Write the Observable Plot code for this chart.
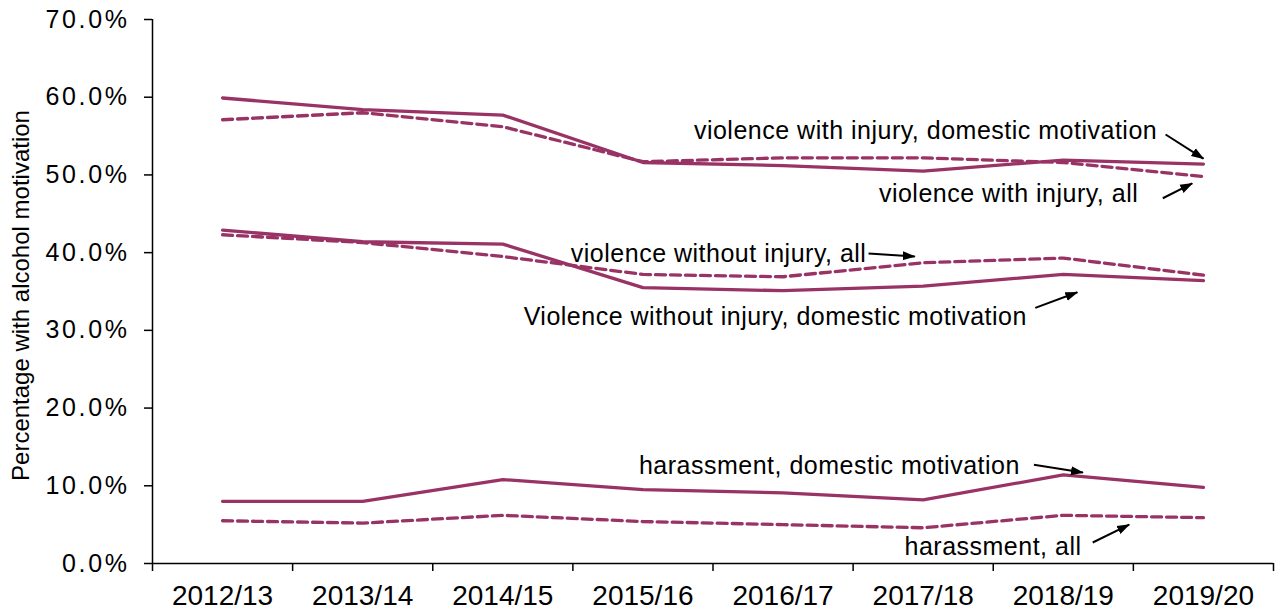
<!DOCTYPE html>
<html>
<head>
<meta charset="utf-8">
<script src="https://cdn.jsdelivr.net/npm/d3@7"></script>
<script src="https://cdn.jsdelivr.net/npm/@observablehq/plot@0.6"></script>
<style>
  html, body { margin: 0; padding: 0; background: #fff; }
  svg { display: block; }
</style>
</head>
<body>
<div id="chart"></div>
<script>
// ---- data ----
const years = ["2012/13", "2013/14", "2014/15", "2015/16", "2016/17", "2017/18", "2018/19", "2019/20"];
const injuryDomestic   = [59.9, 58.4, 57.7, 51.6, 51.2, 50.5, 51.9, 51.4];
const injuryAll        = [57.1, 58.0, 56.2, 51.7, 52.2, 52.2, 51.6, 49.8];
const noInjuryDomestic = [42.9, 41.4, 41.1, 35.5, 35.1, 35.7, 37.2, 36.4];
const noInjuryAll      = [42.3, 41.3, 39.5, 37.2, 36.9, 38.7, 39.3, 37.1];
const harassDomestic   = [8.0, 8.0, 10.8, 9.5, 9.1, 8.2, 11.4, 9.8];
const harassAll        = [5.5, 5.2, 6.2, 5.4, 5.0, 4.6, 6.2, 5.9];
const yTicks = [0, 10, 20, 30, 40, 50, 60, 70];
const yTitle = "Percentage with alcohol motivation";

// annotations (x in category index units, y in percent)
const annoLabels = [
  "violence with injury, domestic motivation",
  "violence with injury, all",
  "violence without injury, all",
  "Violence without injury, domestic motivation",
  "harassment, domestic motivation",
  "harassment, all"
];
const annoX   = [6.67, 6.535, 4.595, 5.74, 5.69, 6.13];
const annoY   = [55.7, 47.6, 39.8, 31.7, 12.6, 2.1];
const arrowX1 = [6.73, 6.71, 4.61, 5.80, 5.79, 6.21];
const arrowY1 = [55.2, 47.0, 39.9, 32.9, 12.7, 2.7];
const arrowX2 = [7.0, 6.92, 4.94, 6.10, 6.14, 6.47];
const arrowY2 = [52.1, 48.9, 39.5, 34.9, 11.7, 5.0];

// ---- build table ----
const seriesDefs = [
  {key: "injuryDomestic", values: injuryDomestic, dashed: false},
  {key: "injuryAll", values: injuryAll, dashed: true},
  {key: "noInjuryDomestic", values: noInjuryDomestic, dashed: false},
  {key: "noInjuryAll", values: noInjuryAll, dashed: true},
  {key: "harassDomestic", values: harassDomestic, dashed: false},
  {key: "harassAll", values: harassAll, dashed: true}
];
const rows = seriesDefs.flatMap(s => s.values.map((v, i) => ({series: s.key, i, v, dashed: s.dashed})));
const boundaries = years.map((_, i) => i - 0.5).concat([years.length - 0.5]);
const centers = years.map((_, i) => i);

const color = "#993366";
const font = "'Liberation Sans', Arial, sans-serif";

const plot = Plot.plot({
  width: 1279,
  height: 610,
  marginLeft: 152,
  marginRight: 6,
  marginTop: 19,
  marginBottom: 47,
  style: {fontFamily: font, fontSize: "24px", color: "black", background: "white", overflow: "visible"},
  x: {type: "linear", domain: [-0.5, years.length - 0.5]},
  y: {domain: [0, 70]},
  marks: [
    Plot.line(rows.filter(d => !d.dashed), {x: "i", y: "v", z: "series", stroke: color, strokeWidth: 3.3}),
    Plot.line(rows.filter(d => d.dashed), {x: "i", y: "v", z: "series", stroke: color, strokeWidth: 3.3, strokeDasharray: "10,5"}),
    Plot.ruleY([0], {stroke: "black", strokeWidth: 1.5}),
    Plot.ruleX([-0.5], {stroke: "black", strokeWidth: 1.5}),
    Plot.axisY({ticks: yTicks, tickFormat: d => d.toFixed(1) + "%", tickSize: 8, tickPadding: 15, label: null, fontSize: 25, stroke: "black", strokeWidth: 1.5}),
    Plot.axisX({ticks: boundaries, tickSize: 8, tickFormat: () => "", label: null, stroke: "black", strokeWidth: 1.5}),
    Plot.axisX({ticks: centers, tickFormat: i => years[i], tickSize: 0, tickPadding: 22, label: null, fontSize: 28}),
    Plot.text([yTitle], {frameAnchor: "left", textAnchor: "middle", rotate: -90, dx: -131, dy: 4, fontSize: 24, fill: "black"}),
    Plot.text(annoLabels, {x: (_, i) => annoX[i], y: (_, i) => annoY[i], text: d => d, textAnchor: "end", fontSize: 25, fill: "black"}),
    Plot.link(annoLabels, {x1: (_, i) => arrowX1[i], y1: (_, i) => arrowY1[i], x2: (_, i) => arrowX2[i], y2: (_, i) => arrowY2[i], stroke: "black", strokeWidth: 2, markerEnd: "arrow"})
  ]
});

// letter spacing to match the reference glyph spacing
plot.querySelectorAll('g[aria-label="y-axis tick label"] text')
  .forEach(t => t.style.letterSpacing = "2.6px");
plot.querySelectorAll("text").forEach(t => {
  if (annoLabels.includes(t.textContent)) t.setAttribute("letter-spacing", "0.5");
});

// filled arrow heads
plot.querySelectorAll("marker").forEach(m => {
  m.setAttribute("viewBox", "-12 -5 13 10");
  m.setAttribute("markerWidth", 13);
  m.setAttribute("markerHeight", 10);
  m.setAttribute("markerUnits", "userSpaceOnUse");
  m.setAttribute("refX", 0);
  m.setAttribute("refY", 0);
  m.setAttribute("fill", "black");
  m.setAttribute("stroke", "none");
  const p = document.createElementNS("http://www.w3.org/2000/svg", "path");
  p.setAttribute("d", "M-12,-4.5L1,0L-12,4.5Z");
  m.replaceChildren(p);
});

document.getElementById("chart").appendChild(plot);
</script>
</body>
</html>
